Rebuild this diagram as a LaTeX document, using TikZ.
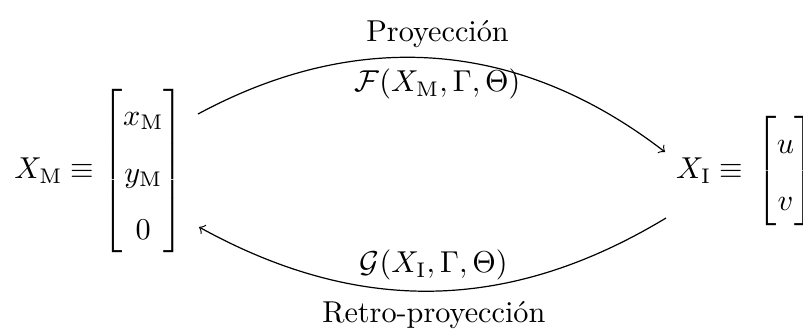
\documentclass[tikz,border=0pt]{standalone}
\usepackage{fontspec}
\usepackage{amsmath,amssymb}
\usepackage{tikz}
\usetikzlibrary{calc,positioning}
\tikzset{
  ar/.style={->,thin,black},
  vec/.style={inner sep=0pt,outer sep=0pt}
}
\renewcommand{\arraystretch}{1.57}
\begin{document}
\begin{tikzpicture}[x=0.01163cm,y=0.01163cm]
\useasboundingbox (0,0) rectangle (803,329);
\node[vec] (XM) at (99,158) {$X_{\mathrm{M}}\equiv\begin{bmatrix} x_{\mathrm{M}}\\ y_{\mathrm{M}}\\ 0\end{bmatrix}$};
\node[vec,anchor=west] (XI) at (676,158) {$X_{\mathrm{I}}\equiv\,\begin{bmatrix} u\\ v\end{bmatrix}$};
\coordinate (ps) at (198,215); \coordinate (pe) at (665,177);
\coordinate (rs) at (666,111); \coordinate (re) at (199,102);
\draw[ar] (ps) to[bend left=33] node[below]{$\mathcal{F}(X_{\mathrm{M}},\Gamma,\Theta)$} node[above]{Proyección} (pe);
\draw[ar] (rs) to[bend left=30] node[above]{$\mathcal{G}(X_{\mathrm{I}},\Gamma,\Theta)$} node[below]{Retro-proyección} (re);
\end{tikzpicture}
\end{document}
